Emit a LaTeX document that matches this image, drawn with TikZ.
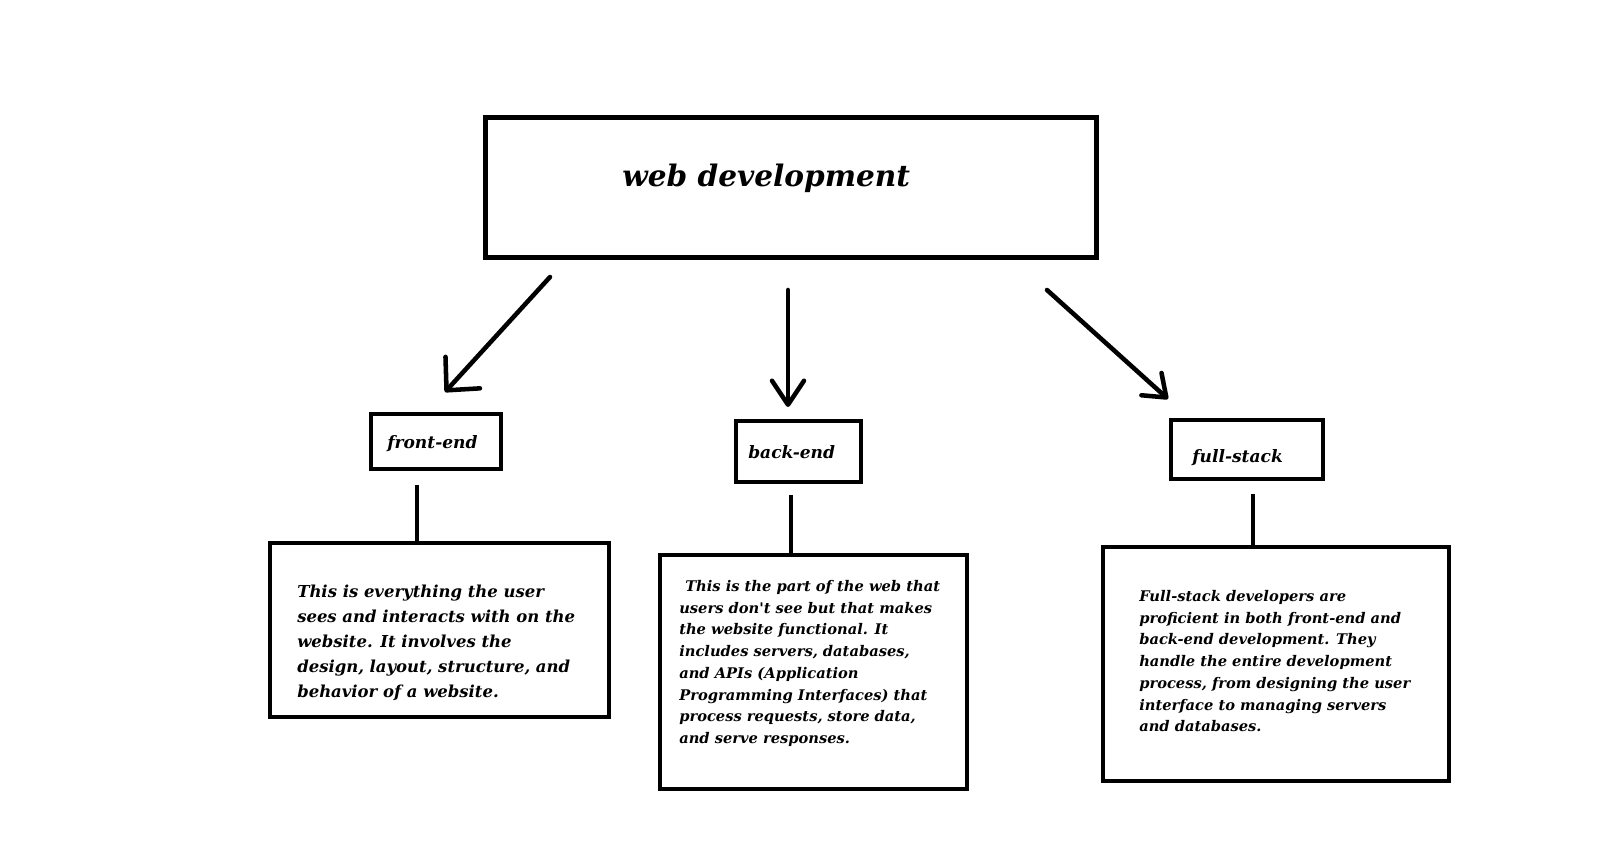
\documentclass[tikz,border=0pt]{standalone}
\usepackage{fontspec}
\newfontfamily\dvs{DejaVu Serif}
\usetikzlibrary{arrows.meta}
\begin{document}
\begin{tikzpicture}[x=0.75pt,y=-0.75pt,
  bx/.style={draw=black, line width=3.6pt, inner sep=0pt},
  titlef/.style={font=\dvs\bfseries\itshape\fontsize{22.2}{26}\selectfont, inner sep=0pt, anchor=base west},
  lblf/.style={font=\dvs\bfseries\itshape\fontsize{12.8}{15}\selectfont, inner sep=0pt, anchor=base west},
  descA/.style={font=\dvs\bfseries\itshape\fontsize{12.35}{18.75}\selectfont, align=left, inner sep=0pt, anchor=north west},
  descB/.style={font=\dvs\bfseries\itshape\fontsize{11}{16.3}\selectfont, align=left, inner sep=0pt, anchor=north west},
  conn/.style={line width=3.4pt},
  arr/.style={line width=3.4pt, line cap=round},
]
\fill[white] (0,0) rectangle (1615,850);
\useasboundingbox (0,0) rectangle (1615,850);

% main box
\node[bx, line width=4.2pt, minimum width=458.25pt, minimum height=105pt] (wd) at (791,187.5) {};
\node[titlef] (wdt) at (622,186) {web development};

% category boxes
\node[bx, minimum width=97.5pt, minimum height=41.25pt] (fe) at (436,441.5) {};
\node[lblf] (fet) at (387,448) {front-end};
\node[bx, minimum width=93.75pt, minimum height=45.75pt] (be) at (798.5,451.5) {};
\node[lblf] (bet) at (748,458) {back-end};
\node[bx, minimum width=114pt, minimum height=44.25pt] (fs) at (1247,449.5) {};
\node[lblf] (fst) at (1192,462) {full-stack};

% description boxes
\node[bx, minimum width=254.25pt, minimum height=130.5pt] (fed) at (439.5,630) {};
\node[bx, minimum width=230.25pt, minimum height=175.5pt] (bed) at (813.5,672) {};
\node[bx, minimum width=259.5pt, minimum height=175.5pt] (fsd) at (1276,664) {};

\node[descA] (fedt) at (297,585) {This is everything the user\\sees and interacts with on the\\website. It involves the\\design, layout, structure, and\\behavior of a website.};
\node[descB] (bedt) at (679,580) {\hspace*{4.5pt}This is the part of the web that\\users don't see but that makes\\the website functional. It\\includes servers, databases,\\and APIs (Application\\Programming Interfaces) that\\process requests, store data,\\and serve responses.};
\node[descB] (fsdt) at (1139,590) {Full-stack developers are\\proficient in both front-end and\\back-end development. They\\handle the entire development\\process, from designing the user\\interface to managing servers\\and databases.};

% arrows
\coordinate (a1s) at (550,277); \coordinate (a1e) at (445,392);
\coordinate (a2s) at (788,290); \coordinate (a2e) at (788,407);
\coordinate (a3s) at (1047,290); \coordinate (a3e) at (1168,399);
\draw[arr, -{Straight Barb[round,length=18pt,width=35pt]}] (a1s) -- (a1e);
\draw[arr, -{Straight Barb[round,length=18pt,width=24pt]}] (a2s) -- (a2e);
\draw[arr, -{Straight Barb[round,length=15pt,width=22.5pt]}] (a3s) -- (a3e);

% vertical connectors
\coordinate (v1) at (417,485);
\coordinate (v2) at (791,495);
\coordinate (v3) at (1253,494);
\draw[conn] (v1) -- (v1 |- fed.north);
\draw[conn] (v2) -- (v2 |- bed.north);
\draw[conn] (v3) -- (v3 |- fsd.north);
\end{tikzpicture}
\end{document}
